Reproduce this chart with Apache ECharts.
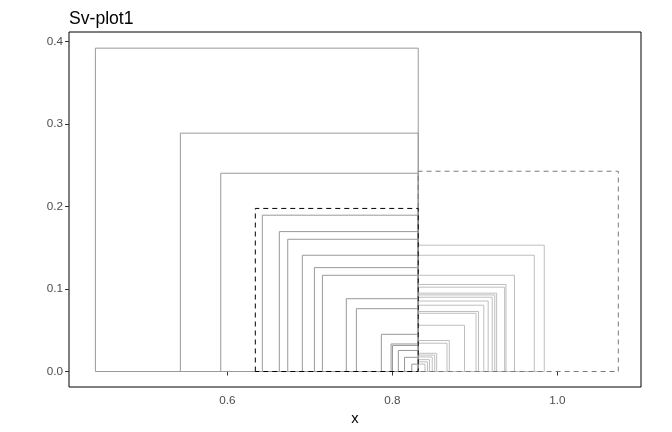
<!DOCTYPE html>
<html>
<head>
<meta charset="utf-8">
<script src="https://cdn.jsdelivr.net/npm/echarts@6/dist/echarts.min.js"></script>
<style>html,body{margin:0;padding:0;background:#fff;}#chart{width:672px;height:432px;}</style>
</head>
<body>
<div id="chart"></div>
<script>
// Median (common edge of all rectangles)
var center = 0.8314;
// Left-side rectangles: left edge x and height
var leftX = [0.440, 0.543, 0.592, 0.6424, 0.6630, 0.6732, 0.6909, 0.7055, 0.7152, 0.7442, 0.7564, 0.7867, 0.7985, 0.8002, 0.8073, 0.8148, 0.8236];
var leftH = [0.3922, 0.2891, 0.2405, 0.1896, 0.1697, 0.1604, 0.1410, 0.1260, 0.1167, 0.0883, 0.0762, 0.0451, 0.0334, 0.0316, 0.0255, 0.0172, 0.0089];
// Right-side rectangles: right edge x and height
var rightX = [0.9842, 0.9721, 0.9481, 0.9378, 0.9362, 0.9265, 0.9242, 0.9211, 0.9162, 0.9109, 0.9045, 0.9015, 0.8875, 0.8691, 0.8663, 0.8538, 0.8514, 0.8484, 0.8451, 0.8427, 0.8396];
var rightH = [0.1532, 0.1410, 0.1167, 0.1056, 0.1023, 0.0950, 0.0929, 0.0901, 0.0855, 0.0804, 0.0728, 0.0706, 0.0561, 0.0376, 0.0343, 0.0221, 0.0199, 0.0176, 0.0144, 0.0117, 0.0090];
// Dashed summary rectangles
var dashLeftX = 0.6339, dashLeftH = 0.1978;
var dashRightX = 1.074, dashRightH = 0.2429;
// Ticks
var xTicks = [0.6, 0.8, 1.0];
var yTicks = [0.0, 0.1, 0.2, 0.3, 0.4];

function rectPath(x1, x2, h) {
  return [[x1, 0], [x1, h], [x2, h], [x2, 0], [x1, 0], [null, null]];
}
function buildRects(xs, hs) {
  var d = [];
  for (var i = 0; i < xs.length; i++) {
    d = d.concat(rectPath(xs[i], center, hs[i]));
  }
  return d;
}

var chart = echarts.init(document.getElementById('chart'));
var font = '"Liberation Sans", Arial, sans-serif';
chart.setOption({
  animation: false,
  backgroundColor: '#ffffff',
  title: {
    text: 'Sv-plot1', left: 64, top: 5,
    textStyle: { fontFamily: font, fontSize: 17.6, fontWeight: 'normal', color: '#000' }
  },
  grid: { left: 69, right: 31, top: 32, bottom: 45, outerBoundsMode: 'none', containLabel: false,
    show: true, borderColor: '#000', borderWidth: 1, backgroundColor: '#fff' },
  xAxis: {
    type: 'value', min: 0.408, max: 1.1015,
    name: 'x', nameLocation: 'middle', nameGap: 24,
    nameTextStyle: { fontFamily: font, fontSize: 14.7, color: '#000' },
    axisLine: { show: false },
    splitLine: { show: false },
    axisTick: { show: true, length: 4, lineStyle: { color: '#333' }, customValues: xTicks },
    axisLabel: { fontFamily: font, fontSize: 11.7, color: '#4d4d4d', margin: 8, customValues: xTicks,
      formatter: function (v) { return v.toFixed(1); } }
  },
  yAxis: {
    type: 'value', min: -0.0188, max: 0.4118,
    axisLine: { show: false },
    splitLine: { show: false },
    axisTick: { show: true, length: 4, lineStyle: { color: '#333' }, customValues: yTicks },
    axisLabel: { fontFamily: font, fontSize: 11.7, color: '#4d4d4d', margin: 6, customValues: yTicks,
      formatter: function (v) { return v.toFixed(1); } }
  },
  series: [
    { type: 'line', data: buildRects(leftX, leftH), symbol: 'none', connectNulls: false,
      lineStyle: { color: '#999999', width: 1 }, silent: true },
    { type: 'line', data: buildRects(rightX, rightH), symbol: 'none', connectNulls: false,
      lineStyle: { color: '#bebebe', width: 1 }, silent: true },
    { type: 'line', data: buildRects([dashRightX], [dashRightH]), symbol: 'none', connectNulls: false,
      lineStyle: { color: '#7a7a7a', width: 1, type: [5, 4] }, silent: true },
    { type: 'line', data: buildRects([dashLeftX], [dashLeftH]), symbol: 'none', connectNulls: false,
      lineStyle: { color: '#000000', width: 1, type: [5, 4] }, silent: true }
  ]
});
</script>
</body>
</html>
